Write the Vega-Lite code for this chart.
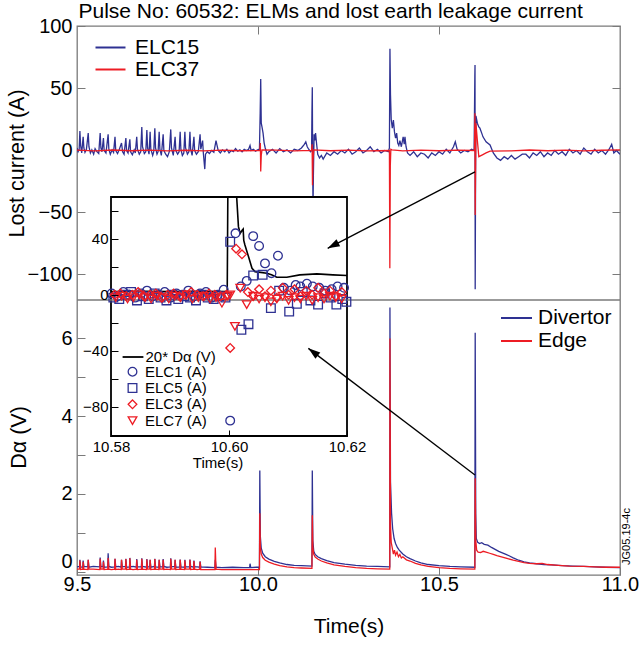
{
"$schema": "https://vega.github.io/schema/vega-lite/v6.json",
"width": 543, "height": 549,
"autosize": {"type": "none"},
"padding": {"left": 77, "top": 26, "right": 24, "bottom": 71},
"background": "white",
"config": {
 "font": "Liberation Sans",
 "view": {"stroke": "#7a7a7a", "strokeWidth": 1.3},
 "axis": {"labelFont": "Liberation Sans", "titleFont": "Liberation Sans", "labelColor": "black", "titleColor": "black", "titleFontWeight": "normal", "domainColor": "#7a7a7a", "tickColor": "#7a7a7a", "grid": false, "labelFlush": false, "labelOverlap": false},
 "legend": {"labelFont": "Liberation Sans", "labelColor": "black", "padding": 0}
},
"datasets": {
 "top": [
{"s":"ELC15","t":9.500,"v":2},{"s":"ELC15","t":9.503,"v":-1},{"s":"ELC15","t":9.506,"v":1},{"s":"ELC15","t":9.508,"v":15.7},{"s":"ELC15","t":9.510,"v":4},{"s":"ELC15","t":9.513,"v":-2},{"s":"ELC15","t":9.517,"v":11},{"s":"ELC15","t":9.519,"v":2},{"s":"ELC15","t":9.522,"v":-1.5},{"s":"ELC15","t":9.526,"v":1},{"s":"ELC15","t":9.531,"v":14},{"s":"ELC15","t":9.533,"v":3},{"s":"ELC15","t":9.537,"v":-2},{"s":"ELC15","t":9.541,"v":0.5},{"s":"ELC15","t":9.546,"v":-3},{"s":"ELC15","t":9.550,"v":1.5},{"s":"ELC15","t":9.555,"v":-1},{"s":"ELC15","t":9.560,"v":-2.5},{"s":"ELC15","t":9.564,"v":14},{"s":"ELC15","t":9.566,"v":2},{"s":"ELC15","t":9.569,"v":-1},{"s":"ELC15","t":9.573,"v":10},{"s":"ELC15","t":9.575,"v":0},{"s":"ELC15","t":9.580,"v":-2},{"s":"ELC15","t":9.586,"v":13},{"s":"ELC15","t":9.588,"v":1},{"s":"ELC15","t":9.592,"v":-3},{"s":"ELC15","t":9.597,"v":0.5},{"s":"ELC15","t":9.601,"v":-1.5},{"s":"ELC15","t":9.605,"v":11},{"s":"ELC15","t":9.607,"v":0},{"s":"ELC15","t":9.612,"v":-2.5},{"s":"ELC15","t":9.617,"v":1},{"s":"ELC15","t":9.623,"v":6},{"s":"ELC15","t":9.626,"v":-1},{"s":"ELC15","t":9.630,"v":-3},{"s":"ELC15","t":9.635,"v":10},{"s":"ELC15","t":9.637,"v":0},{"s":"ELC15","t":9.641,"v":-2},{"s":"ELC15","t":9.646,"v":9},{"s":"ELC15","t":9.648,"v":-1},{"s":"ELC15","t":9.653,"v":-3.5},{"s":"ELC15","t":9.658,"v":0.5},{"s":"ELC15","t":9.661,"v":-2},{"s":"ELC15","t":9.665,"v":11},{"s":"ELC15","t":9.667,"v":1},{"s":"ELC15","t":9.672,"v":-3},{"s":"ELC15","t":9.676,"v":-1},{"s":"ELC15","t":9.679,"v":19},{"s":"ELC15","t":9.681,"v":3},{"s":"ELC15","t":9.686,"v":-2.5},{"s":"ELC15","t":9.690,"v":-1},{"s":"ELC15","t":9.693,"v":16.5},{"s":"ELC15","t":9.695,"v":2},{"s":"ELC15","t":9.699,"v":-3},{"s":"ELC15","t":9.702,"v":15},{"s":"ELC15","t":9.704,"v":1},{"s":"ELC15","t":9.709,"v":-4},{"s":"ELC15","t":9.712,"v":-1},{"s":"ELC15","t":9.715,"v":18},{"s":"ELC15","t":9.717,"v":2},{"s":"ELC15","t":9.721,"v":-3},{"s":"ELC15","t":9.724,"v":-1},{"s":"ELC15","t":9.727,"v":15},{"s":"ELC15","t":9.729,"v":1},{"s":"ELC15","t":9.733,"v":-4},{"s":"ELC15","t":9.738,"v":13},{"s":"ELC15","t":9.740,"v":0},{"s":"ELC15","t":9.745,"v":-3},{"s":"ELC15","t":9.750,"v":-5},{"s":"ELC15","t":9.755,"v":-1},{"s":"ELC15","t":9.759,"v":17},{"s":"ELC15","t":9.761,"v":2},{"s":"ELC15","t":9.766,"v":-4},{"s":"ELC15","t":9.771,"v":11},{"s":"ELC15","t":9.773,"v":0},{"s":"ELC15","t":9.778,"v":-3},{"s":"ELC15","t":9.782,"v":-1},{"s":"ELC15","t":9.785,"v":15},{"s":"ELC15","t":9.787,"v":1},{"s":"ELC15","t":9.791,"v":-4},{"s":"ELC15","t":9.795,"v":-2},{"s":"ELC15","t":9.798,"v":15},{"s":"ELC15","t":9.800,"v":2},{"s":"ELC15","t":9.805,"v":-3},{"s":"ELC15","t":9.809,"v":-1},{"s":"ELC15","t":9.812,"v":15},{"s":"ELC15","t":9.814,"v":1},{"s":"ELC15","t":9.818,"v":-4},{"s":"ELC15","t":9.823,"v":11},{"s":"ELC15","t":9.825,"v":0},{"s":"ELC15","t":9.830,"v":-3},{"s":"ELC15","t":9.835,"v":-1},{"s":"ELC15","t":9.840,"v":13},{"s":"ELC15","t":9.842,"v":1},{"s":"ELC15","t":9.847,"v":8},{"s":"ELC15","t":9.849,"v":-2},{"s":"ELC15","t":9.853,"v":-15},{"s":"ELC15","t":9.855,"v":-3},{"s":"ELC15","t":9.860,"v":-1},{"s":"ELC15","t":9.866,"v":-2.5},{"s":"ELC15","t":9.872,"v":0},{"s":"ELC15","t":9.878,"v":-1.5},{"s":"ELC15","t":9.884,"v":8},{"s":"ELC15","t":9.887,"v":4},{"s":"ELC15","t":9.890,"v":0},{"s":"ELC15","t":9.896,"v":-2},{"s":"ELC15","t":9.902,"v":0.5},{"s":"ELC15","t":9.908,"v":-1},{"s":"ELC15","t":9.914,"v":1},{"s":"ELC15","t":9.920,"v":-2},{"s":"ELC15","t":9.926,"v":0},{"s":"ELC15","t":9.932,"v":-1},{"s":"ELC15","t":9.938,"v":1.5},{"s":"ELC15","t":9.944,"v":-0.5},{"s":"ELC15","t":9.950,"v":0.5},{"s":"ELC15","t":9.956,"v":-1},{"s":"ELC15","t":9.962,"v":1},{"s":"ELC15","t":9.968,"v":0},{"s":"ELC15","t":9.974,"v":1},{"s":"ELC15","t":9.978,"v":4},{"s":"ELC15","t":9.981,"v":0},{"s":"ELC15","t":9.987,"v":1},{"s":"ELC15","t":9.993,"v":-0.5},{"s":"ELC15","t":9.999,"v":0.5},{"s":"ELC15","t":10.004,"v":1},{"s":"ELC15","t":10.006,"v":30},{"s":"ELC15","t":10.0075,"v":57.7},{"s":"ELC15","t":10.009,"v":22},{"s":"ELC15","t":10.011,"v":19},{"s":"ELC15","t":10.014,"v":14},{"s":"ELC15","t":10.017,"v":6},{"s":"ELC15","t":10.020,"v":2},{"s":"ELC15","t":10.025,"v":-3},{"s":"ELC15","t":10.030,"v":-1},{"s":"ELC15","t":10.040,"v":1},{"s":"ELC15","t":10.050,"v":-2},{"s":"ELC15","t":10.060,"v":1.5},{"s":"ELC15","t":10.070,"v":-1},{"s":"ELC15","t":10.080,"v":0.5},{"s":"ELC15","t":10.090,"v":-2},{"s":"ELC15","t":10.100,"v":1},{"s":"ELC15","t":10.110,"v":0},{"s":"ELC15","t":10.120,"v":2},{"s":"ELC15","t":10.128,"v":5},{"s":"ELC15","t":10.132,"v":7},{"s":"ELC15","t":10.136,"v":3},{"s":"ELC15","t":10.140,"v":1},{"s":"ELC15","t":10.145,"v":-1},{"s":"ELC15","t":10.148,"v":0},{"s":"ELC15","t":10.149,"v":30},{"s":"ELC15","t":10.150,"v":51},{"s":"ELC15","t":10.151,"v":-10},{"s":"ELC15","t":10.152,"v":-46},{"s":"ELC15","t":10.153,"v":-20},{"s":"ELC15","t":10.155,"v":13},{"s":"ELC15","t":10.157,"v":8},{"s":"ELC15","t":10.159,"v":14},{"s":"ELC15","t":10.162,"v":5},{"s":"ELC15","t":10.165,"v":-3},{"s":"ELC15","t":10.170,"v":-6},{"s":"ELC15","t":10.175,"v":-4},{"s":"ELC15","t":10.180,"v":-7},{"s":"ELC15","t":10.190,"v":-2},{"s":"ELC15","t":10.200,"v":-4},{"s":"ELC15","t":10.210,"v":-1},{"s":"ELC15","t":10.220,"v":-3},{"s":"ELC15","t":10.230,"v":0},{"s":"ELC15","t":10.240,"v":-2},{"s":"ELC15","t":10.250,"v":1},{"s":"ELC15","t":10.260,"v":-3},{"s":"ELC15","t":10.270,"v":-1},{"s":"ELC15","t":10.280,"v":2},{"s":"ELC15","t":10.290,"v":-2},{"s":"ELC15","t":10.300,"v":0},{"s":"ELC15","t":10.310,"v":3},{"s":"ELC15","t":10.320,"v":-1},{"s":"ELC15","t":10.330,"v":1},{"s":"ELC15","t":10.340,"v":-2},{"s":"ELC15","t":10.350,"v":0},{"s":"ELC15","t":10.360,"v":-1},{"s":"ELC15","t":10.363,"v":2},{"s":"ELC15","t":10.3645,"v":82},{"s":"ELC15","t":10.366,"v":45},{"s":"ELC15","t":10.368,"v":25},{"s":"ELC15","t":10.371,"v":18},{"s":"ELC15","t":10.374,"v":24.6},{"s":"ELC15","t":10.377,"v":15},{"s":"ELC15","t":10.380,"v":10},{"s":"ELC15","t":10.383,"v":14},{"s":"ELC15","t":10.386,"v":6},{"s":"ELC15","t":10.389,"v":4},{"s":"ELC15","t":10.392,"v":8},{"s":"ELC15","t":10.396,"v":3},{"s":"ELC15","t":10.401,"v":11},{"s":"ELC15","t":10.404,"v":5},{"s":"ELC15","t":10.406,"v":11},{"s":"ELC15","t":10.409,"v":3},{"s":"ELC15","t":10.413,"v":-2},{"s":"ELC15","t":10.420,"v":-4},{"s":"ELC15","t":10.430,"v":-1},{"s":"ELC15","t":10.440,"v":-5},{"s":"ELC15","t":10.450,"v":-2},{"s":"ELC15","t":10.460,"v":-3},{"s":"ELC15","t":10.470,"v":-6},{"s":"ELC15","t":10.480,"v":-2},{"s":"ELC15","t":10.490,"v":-4},{"s":"ELC15","t":10.500,"v":-1},{"s":"ELC15","t":10.510,"v":-3},{"s":"ELC15","t":10.520,"v":1},{"s":"ELC15","t":10.530,"v":-2},{"s":"ELC15","t":10.540,"v":3},{"s":"ELC15","t":10.545,"v":7},{"s":"ELC15","t":10.550,"v":1},{"s":"ELC15","t":10.560,"v":-2},{"s":"ELC15","t":10.570,"v":0},{"s":"ELC15","t":10.580,"v":-1},{"s":"ELC15","t":10.590,"v":1},{"s":"ELC15","t":10.597,"v":0},{"s":"ELC15","t":10.599,"v":60},{"s":"ELC15","t":10.5995,"v":69},{"s":"ELC15","t":10.600,"v":-112},{"s":"ELC15","t":10.601,"v":-20},{"s":"ELC15","t":10.602,"v":28},{"s":"ELC15","t":10.606,"v":22},{"s":"ELC15","t":10.610,"v":19},{"s":"ELC15","t":10.613,"v":18},{"s":"ELC15","t":10.618,"v":14},{"s":"ELC15","t":10.6215,"v":11},{"s":"ELC15","t":10.630,"v":7},{"s":"ELC15","t":10.641,"v":4.4},{"s":"ELC15","t":10.650,"v":-2},{"s":"ELC15","t":10.660,"v":-6},{"s":"ELC15","t":10.670,"v":-8},{"s":"ELC15","t":10.680,"v":-5},{"s":"ELC15","t":10.690,"v":-7},{"s":"ELC15","t":10.700,"v":-4},{"s":"ELC15","t":10.710,"v":-7},{"s":"ELC15","t":10.720,"v":-5},{"s":"ELC15","t":10.730,"v":-3},{"s":"ELC15","t":10.740,"v":-3},{"s":"ELC15","t":10.750,"v":-6},{"s":"ELC15","t":10.760,"v":-2},{"s":"ELC15","t":10.770,"v":-4},{"s":"ELC15","t":10.780,"v":-1},{"s":"ELC15","t":10.790,"v":-5},{"s":"ELC15","t":10.800,"v":-2},{"s":"ELC15","t":10.810,"v":-4},{"s":"ELC15","t":10.820,"v":0},{"s":"ELC15","t":10.830,"v":-3},{"s":"ELC15","t":10.840,"v":-1},{"s":"ELC15","t":10.850,"v":-4},{"s":"ELC15","t":10.860,"v":1},{"s":"ELC15","t":10.870,"v":-2},{"s":"ELC15","t":10.880,"v":0},{"s":"ELC15","t":10.890,"v":-3},{"s":"ELC15","t":10.900,"v":2},{"s":"ELC15","t":10.910,"v":-1},{"s":"ELC15","t":10.920,"v":-3},{"s":"ELC15","t":10.930,"v":1},{"s":"ELC15","t":10.940,"v":-2},{"s":"ELC15","t":10.950,"v":0},{"s":"ELC15","t":10.960,"v":-3},{"s":"ELC15","t":10.970,"v":1},{"s":"ELC15","t":10.977,"v":5},{"s":"ELC15","t":10.983,"v":-2},{"s":"ELC15","t":10.990,"v":0},{"s":"ELC15","t":11.000,"v":-3},
{"s":"ELC37","t":9.500,"v":0.3},{"s":"ELC37","t":9.550,"v":-0.3},{"s":"ELC37","t":9.600,"v":0.4},{"s":"ELC37","t":9.650,"v":-0.2},{"s":"ELC37","t":9.700,"v":0.3},{"s":"ELC37","t":9.750,"v":-0.4},{"s":"ELC37","t":9.800,"v":0.2},{"s":"ELC37","t":9.850,"v":-0.3},{"s":"ELC37","t":9.900,"v":0.3},{"s":"ELC37","t":9.950,"v":-0.2},{"s":"ELC37","t":10.005,"v":0},{"s":"ELC37","t":10.0065,"v":6},{"s":"ELC37","t":10.0075,"v":-17},{"s":"ELC37","t":10.009,"v":-4},{"s":"ELC37","t":10.011,"v":0.5},{"s":"ELC37","t":10.050,"v":0.3},{"s":"ELC37","t":10.100,"v":-0.3},{"s":"ELC37","t":10.148,"v":0},{"s":"ELC37","t":10.1495,"v":5},{"s":"ELC37","t":10.1505,"v":-28},{"s":"ELC37","t":10.152,"v":-8},{"s":"ELC37","t":10.154,"v":0.5},{"s":"ELC37","t":10.200,"v":-0.2},{"s":"ELC37","t":10.250,"v":0.3},{"s":"ELC37","t":10.300,"v":-0.3},{"s":"ELC37","t":10.363,"v":0},{"s":"ELC37","t":10.3642,"v":-95},{"s":"ELC37","t":10.3655,"v":-12},{"s":"ELC37","t":10.367,"v":1},{"s":"ELC37","t":10.370,"v":0.5},{"s":"ELC37","t":10.400,"v":-0.3},{"s":"ELC37","t":10.450,"v":0.3},{"s":"ELC37","t":10.500,"v":-0.2},{"s":"ELC37","t":10.550,"v":0.3},{"s":"ELC37","t":10.598,"v":0},{"s":"ELC37","t":10.5993,"v":30},{"s":"ELC37","t":10.600,"v":-52},{"s":"ELC37","t":10.602,"v":22},{"s":"ELC37","t":10.606,"v":8},{"s":"ELC37","t":10.610,"v":-5},{"s":"ELC37","t":10.620,"v":-3.5},{"s":"ELC37","t":10.630,"v":-2},{"s":"ELC37","t":10.641,"v":-0.5},{"s":"ELC37","t":10.700,"v":-0.3},{"s":"ELC37","t":10.750,"v":0.4},{"s":"ELC37","t":10.800,"v":-0.2},{"s":"ELC37","t":10.850,"v":0.3},{"s":"ELC37","t":10.900,"v":-0.3},{"s":"ELC37","t":10.950,"v":0.2},{"s":"ELC37","t":11.000,"v":0.5}
 ],
 "bot": [
{"s":"Divertor","t":9.500,"v":0.12},{"s":"Divertor","t":9.507,"v":0.13},{"s":"Divertor","t":9.508,"v":0.30},{"s":"Divertor","t":9.510,"v":0.12},{"s":"Divertor","t":9.516,"v":0.11},{"s":"Divertor","t":9.517,"v":0.28},{"s":"Divertor","t":9.519,"v":0.13},{"s":"Divertor","t":9.530,"v":0.12},{"s":"Divertor","t":9.531,"v":0.30},{"s":"Divertor","t":9.533,"v":0.11},{"s":"Divertor","t":9.545,"v":0.13},{"s":"Divertor","t":9.563,"v":0.12},{"s":"Divertor","t":9.564,"v":0.36},{"s":"Divertor","t":9.566,"v":0.12},{"s":"Divertor","t":9.572,"v":0.13},{"s":"Divertor","t":9.573,"v":0.28},{"s":"Divertor","t":9.575,"v":0.11},{"s":"Divertor","t":9.585,"v":0.12},{"s":"Divertor","t":9.586,"v":0.47},{"s":"Divertor","t":9.588,"v":0.13},{"s":"Divertor","t":9.595,"v":0.11},{"s":"Divertor","t":9.604,"v":0.12},{"s":"Divertor","t":9.605,"v":0.33},{"s":"Divertor","t":9.607,"v":0.12},{"s":"Divertor","t":9.614,"v":0.13},{"s":"Divertor","t":9.622,"v":0.11},{"s":"Divertor","t":9.623,"v":0.30},{"s":"Divertor","t":9.625,"v":0.12},{"s":"Divertor","t":9.634,"v":0.13},{"s":"Divertor","t":9.635,"v":0.33},{"s":"Divertor","t":9.637,"v":0.11},{"s":"Divertor","t":9.645,"v":0.12},{"s":"Divertor","t":9.646,"v":0.35},{"s":"Divertor","t":9.648,"v":0.12},{"s":"Divertor","t":9.655,"v":0.13},{"s":"Divertor","t":9.664,"v":0.11},{"s":"Divertor","t":9.665,"v":0.32},{"s":"Divertor","t":9.667,"v":0.12},{"s":"Divertor","t":9.678,"v":0.12},{"s":"Divertor","t":9.679,"v":0.34},{"s":"Divertor","t":9.681,"v":0.13},{"s":"Divertor","t":9.692,"v":0.11},{"s":"Divertor","t":9.693,"v":0.32},{"s":"Divertor","t":9.695,"v":0.12},{"s":"Divertor","t":9.701,"v":0.12},{"s":"Divertor","t":9.702,"v":0.30},{"s":"Divertor","t":9.704,"v":0.11},{"s":"Divertor","t":9.714,"v":0.13},{"s":"Divertor","t":9.715,"v":0.33},{"s":"Divertor","t":9.717,"v":0.12},{"s":"Divertor","t":9.726,"v":0.11},{"s":"Divertor","t":9.727,"v":0.30},{"s":"Divertor","t":9.729,"v":0.12},{"s":"Divertor","t":9.737,"v":0.12},{"s":"Divertor","t":9.738,"v":0.32},{"s":"Divertor","t":9.740,"v":0.13},{"s":"Divertor","t":9.748,"v":0.11},{"s":"Divertor","t":9.758,"v":0.12},{"s":"Divertor","t":9.759,"v":0.34},{"s":"Divertor","t":9.761,"v":0.12},{"s":"Divertor","t":9.770,"v":0.13},{"s":"Divertor","t":9.771,"v":0.30},{"s":"Divertor","t":9.773,"v":0.11},{"s":"Divertor","t":9.784,"v":0.12},{"s":"Divertor","t":9.785,"v":0.31},{"s":"Divertor","t":9.787,"v":0.12},{"s":"Divertor","t":9.797,"v":0.11},{"s":"Divertor","t":9.798,"v":0.30},{"s":"Divertor","t":9.800,"v":0.12},{"s":"Divertor","t":9.811,"v":0.12},{"s":"Divertor","t":9.812,"v":0.31},{"s":"Divertor","t":9.814,"v":0.13},{"s":"Divertor","t":9.822,"v":0.11},{"s":"Divertor","t":9.823,"v":0.28},{"s":"Divertor","t":9.825,"v":0.12},{"s":"Divertor","t":9.832,"v":0.12},{"s":"Divertor","t":9.839,"v":0.11},{"s":"Divertor","t":9.840,"v":0.26},{"s":"Divertor","t":9.842,"v":0.12},{"s":"Divertor","t":9.860,"v":0.11},{"s":"Divertor","t":9.881,"v":0.10},{"s":"Divertor","t":9.882,"v":0.30},{"s":"Divertor","t":9.884,"v":0.11},{"s":"Divertor","t":9.900,"v":0.10},{"s":"Divertor","t":9.930,"v":0.11},{"s":"Divertor","t":9.960,"v":0.10},{"s":"Divertor","t":9.977,"v":0.10},{"s":"Divertor","t":9.978,"v":0.20},{"s":"Divertor","t":9.980,"v":0.10},{"s":"Divertor","t":9.995,"v":0.11},{"s":"Divertor","t":10.004,"v":0.11},{"s":"Divertor","t":10.005,"v":2.6},{"s":"Divertor","t":10.0065,"v":0.9},{"s":"Divertor","t":10.009,"v":0.6},{"s":"Divertor","t":10.013,"v":0.47},{"s":"Divertor","t":10.020,"v":0.38},{"s":"Divertor","t":10.030,"v":0.32},{"s":"Divertor","t":10.045,"v":0.26},{"s":"Divertor","t":10.060,"v":0.22},{"s":"Divertor","t":10.080,"v":0.18},{"s":"Divertor","t":10.100,"v":0.16},{"s":"Divertor","t":10.120,"v":0.15},{"s":"Divertor","t":10.149,"v":0.14},{"s":"Divertor","t":10.150,"v":2.6},{"s":"Divertor","t":10.1515,"v":0.8},{"s":"Divertor","t":10.154,"v":0.52},{"s":"Divertor","t":10.158,"v":0.44},{"s":"Divertor","t":10.165,"v":0.38},{"s":"Divertor","t":10.175,"v":0.33},{"s":"Divertor","t":10.190,"v":0.28},{"s":"Divertor","t":10.210,"v":0.23},{"s":"Divertor","t":10.240,"v":0.19},{"s":"Divertor","t":10.270,"v":0.16},{"s":"Divertor","t":10.300,"v":0.14},{"s":"Divertor","t":10.330,"v":0.13},{"s":"Divertor","t":10.364,"v":0.12},{"s":"Divertor","t":10.3645,"v":6.8},{"s":"Divertor","t":10.366,"v":2.3},{"s":"Divertor","t":10.369,"v":1.5},{"s":"Divertor","t":10.372,"v":1.1},{"s":"Divertor","t":10.376,"v":0.85},{"s":"Divertor","t":10.380,"v":0.72},{"s":"Divertor","t":10.385,"v":0.62},{"s":"Divertor","t":10.390,"v":0.55},{"s":"Divertor","t":10.400,"v":0.45},{"s":"Divertor","t":10.410,"v":0.38},{"s":"Divertor","t":10.420,"v":0.33},{"s":"Divertor","t":10.435,"v":0.27},{"s":"Divertor","t":10.450,"v":0.22},{"s":"Divertor","t":10.470,"v":0.18},{"s":"Divertor","t":10.500,"v":0.15},{"s":"Divertor","t":10.530,"v":0.13},{"s":"Divertor","t":10.560,"v":0.12},{"s":"Divertor","t":10.599,"v":0.11},{"s":"Divertor","t":10.600,"v":6.15},{"s":"Divertor","t":10.6015,"v":1.5},{"s":"Divertor","t":10.603,"v":0.85},{"s":"Divertor","t":10.607,"v":0.75},{"s":"Divertor","t":10.612,"v":0.72},{"s":"Divertor","t":10.618,"v":0.74},{"s":"Divertor","t":10.625,"v":0.70},{"s":"Divertor","t":10.635,"v":0.68},{"s":"Divertor","t":10.645,"v":0.62},{"s":"Divertor","t":10.655,"v":0.57},{"s":"Divertor","t":10.665,"v":0.52},{"s":"Divertor","t":10.675,"v":0.48},{"s":"Divertor","t":10.685,"v":0.44},{"s":"Divertor","t":10.695,"v":0.40},{"s":"Divertor","t":10.705,"v":0.35},{"s":"Divertor","t":10.720,"v":0.29},{"s":"Divertor","t":10.735,"v":0.25},{"s":"Divertor","t":10.750,"v":0.22},{"s":"Divertor","t":10.770,"v":0.20},{"s":"Divertor","t":10.790,"v":0.18},{"s":"Divertor","t":10.810,"v":0.17},{"s":"Divertor","t":10.840,"v":0.15},{"s":"Divertor","t":10.870,"v":0.14},{"s":"Divertor","t":10.900,"v":0.13},{"s":"Divertor","t":10.930,"v":0.12},{"s":"Divertor","t":10.960,"v":0.11},{"s":"Divertor","t":11.000,"v":0.10},
{"s":"Edge","t":9.500,"v":0.06},{"s":"Edge","t":9.507,"v":0.06},{"s":"Edge","t":9.508,"v":0.28},{"s":"Edge","t":9.510,"v":0.05},{"s":"Edge","t":9.516,"v":0.06},{"s":"Edge","t":9.517,"v":0.25},{"s":"Edge","t":9.519,"v":0.06},{"s":"Edge","t":9.530,"v":0.05},{"s":"Edge","t":9.531,"v":0.30},{"s":"Edge","t":9.533,"v":0.06},{"s":"Edge","t":9.545,"v":0.06},{"s":"Edge","t":9.563,"v":0.05},{"s":"Edge","t":9.564,"v":0.33},{"s":"Edge","t":9.566,"v":0.06},{"s":"Edge","t":9.572,"v":0.06},{"s":"Edge","t":9.573,"v":0.25},{"s":"Edge","t":9.575,"v":0.05},{"s":"Edge","t":9.585,"v":0.06},{"s":"Edge","t":9.586,"v":0.35},{"s":"Edge","t":9.588,"v":0.06},{"s":"Edge","t":9.595,"v":0.05},{"s":"Edge","t":9.604,"v":0.06},{"s":"Edge","t":9.605,"v":0.33},{"s":"Edge","t":9.607,"v":0.05},{"s":"Edge","t":9.614,"v":0.06},{"s":"Edge","t":9.622,"v":0.05},{"s":"Edge","t":9.623,"v":0.30},{"s":"Edge","t":9.625,"v":0.06},{"s":"Edge","t":9.634,"v":0.06},{"s":"Edge","t":9.635,"v":0.32},{"s":"Edge","t":9.637,"v":0.05},{"s":"Edge","t":9.645,"v":0.06},{"s":"Edge","t":9.646,"v":0.34},{"s":"Edge","t":9.648,"v":0.06},{"s":"Edge","t":9.655,"v":0.05},{"s":"Edge","t":9.664,"v":0.06},{"s":"Edge","t":9.665,"v":0.30},{"s":"Edge","t":9.667,"v":0.05},{"s":"Edge","t":9.678,"v":0.06},{"s":"Edge","t":9.679,"v":0.33},{"s":"Edge","t":9.681,"v":0.06},{"s":"Edge","t":9.692,"v":0.05},{"s":"Edge","t":9.693,"v":0.31},{"s":"Edge","t":9.695,"v":0.06},{"s":"Edge","t":9.701,"v":0.06},{"s":"Edge","t":9.702,"v":0.30},{"s":"Edge","t":9.704,"v":0.05},{"s":"Edge","t":9.714,"v":0.06},{"s":"Edge","t":9.715,"v":0.32},{"s":"Edge","t":9.717,"v":0.06},{"s":"Edge","t":9.726,"v":0.05},{"s":"Edge","t":9.727,"v":0.30},{"s":"Edge","t":9.729,"v":0.06},{"s":"Edge","t":9.737,"v":0.06},{"s":"Edge","t":9.738,"v":0.30},{"s":"Edge","t":9.740,"v":0.05},{"s":"Edge","t":9.748,"v":0.06},{"s":"Edge","t":9.758,"v":0.05},{"s":"Edge","t":9.759,"v":0.33},{"s":"Edge","t":9.761,"v":0.06},{"s":"Edge","t":9.770,"v":0.06},{"s":"Edge","t":9.771,"v":0.30},{"s":"Edge","t":9.773,"v":0.05},{"s":"Edge","t":9.784,"v":0.06},{"s":"Edge","t":9.785,"v":0.30},{"s":"Edge","t":9.787,"v":0.06},{"s":"Edge","t":9.797,"v":0.05},{"s":"Edge","t":9.798,"v":0.29},{"s":"Edge","t":9.800,"v":0.06},{"s":"Edge","t":9.811,"v":0.06},{"s":"Edge","t":9.812,"v":0.30},{"s":"Edge","t":9.814,"v":0.05},{"s":"Edge","t":9.822,"v":0.06},{"s":"Edge","t":9.823,"v":0.27},{"s":"Edge","t":9.825,"v":0.06},{"s":"Edge","t":9.832,"v":0.05},{"s":"Edge","t":9.839,"v":0.06},{"s":"Edge","t":9.840,"v":0.25},{"s":"Edge","t":9.842,"v":0.05},{"s":"Edge","t":9.860,"v":0.05},{"s":"Edge","t":9.881,"v":0.05},{"s":"Edge","t":9.882,"v":0.62},{"s":"Edge","t":9.884,"v":0.06},{"s":"Edge","t":9.900,"v":0.05},{"s":"Edge","t":9.950,"v":0.05},{"s":"Edge","t":10.004,"v":0.05},{"s":"Edge","t":10.005,"v":1.5},{"s":"Edge","t":10.0065,"v":0.65},{"s":"Edge","t":10.009,"v":0.45},{"s":"Edge","t":10.013,"v":0.36},{"s":"Edge","t":10.020,"v":0.29},{"s":"Edge","t":10.030,"v":0.24},{"s":"Edge","t":10.045,"v":0.19},{"s":"Edge","t":10.060,"v":0.15},{"s":"Edge","t":10.080,"v":0.12},{"s":"Edge","t":10.100,"v":0.10},{"s":"Edge","t":10.120,"v":0.09},{"s":"Edge","t":10.149,"v":0.08},{"s":"Edge","t":10.150,"v":1.45},{"s":"Edge","t":10.1515,"v":0.62},{"s":"Edge","t":10.154,"v":0.44},{"s":"Edge","t":10.158,"v":0.37},{"s":"Edge","t":10.165,"v":0.32},{"s":"Edge","t":10.175,"v":0.27},{"s":"Edge","t":10.190,"v":0.22},{"s":"Edge","t":10.210,"v":0.17},{"s":"Edge","t":10.240,"v":0.13},{"s":"Edge","t":10.270,"v":0.10},{"s":"Edge","t":10.300,"v":0.08},{"s":"Edge","t":10.330,"v":0.07},{"s":"Edge","t":10.364,"v":0.06},{"s":"Edge","t":10.3645,"v":6.0},{"s":"Edge","t":10.366,"v":1.2},{"s":"Edge","t":10.368,"v":0.75},{"s":"Edge","t":10.371,"v":0.6},{"s":"Edge","t":10.374,"v":0.45},{"s":"Edge","t":10.377,"v":0.55},{"s":"Edge","t":10.380,"v":0.42},{"s":"Edge","t":10.384,"v":0.5},{"s":"Edge","t":10.388,"v":0.38},{"s":"Edge","t":10.392,"v":0.44},{"s":"Edge","t":10.396,"v":0.35},{"s":"Edge","t":10.400,"v":0.38},{"s":"Edge","t":10.410,"v":0.30},{"s":"Edge","t":10.420,"v":0.27},{"s":"Edge","t":10.435,"v":0.21},{"s":"Edge","t":10.450,"v":0.17},{"s":"Edge","t":10.470,"v":0.13},{"s":"Edge","t":10.500,"v":0.10},{"s":"Edge","t":10.530,"v":0.08},{"s":"Edge","t":10.560,"v":0.07},{"s":"Edge","t":10.599,"v":0.06},{"s":"Edge","t":10.600,"v":2.4},{"s":"Edge","t":10.6015,"v":0.8},{"s":"Edge","t":10.604,"v":0.55},{"s":"Edge","t":10.608,"v":0.50},{"s":"Edge","t":10.615,"v":0.49},{"s":"Edge","t":10.622,"v":0.52},{"s":"Edge","t":10.630,"v":0.50},{"s":"Edge","t":10.640,"v":0.47},{"s":"Edge","t":10.650,"v":0.44},{"s":"Edge","t":10.660,"v":0.41},{"s":"Edge","t":10.675,"v":0.37},{"s":"Edge","t":10.690,"v":0.33},{"s":"Edge","t":10.705,"v":0.29},{"s":"Edge","t":10.720,"v":0.26},{"s":"Edge","t":10.735,"v":0.23},{"s":"Edge","t":10.750,"v":0.21},{"s":"Edge","t":10.770,"v":0.20},{"s":"Edge","t":10.785,"v":0.21},{"s":"Edge","t":10.800,"v":0.18},{"s":"Edge","t":10.830,"v":0.16},{"s":"Edge","t":10.860,"v":0.14},{"s":"Edge","t":10.900,"v":0.13},{"s":"Edge","t":10.930,"v":0.12},{"s":"Edge","t":10.960,"v":0.11},{"s":"Edge","t":11.000,"v":0.11}
 ],
 "insline": [
{"t":10.5800,"v":2.4},{"t":10.5850,"v":2.6},{"t":10.5900,"v":2.3},{"t":10.5950,"v":2.5},{"t":10.5997,"v":2.4},{"t":10.5998,"v":70},{"t":10.6013,"v":70},{"t":10.6016,"v":48.8},{"t":10.6019,"v":44},{"t":10.6022,"v":46},{"t":10.6024,"v":47},{"t":10.6025,"v":39},{"t":10.6027,"v":35.7},{"t":10.6033,"v":27.4},{"t":10.6039,"v":19},{"t":10.6044,"v":16.6},{"t":10.6064,"v":15.5},{"t":10.6072,"v":14.3},{"t":10.6081,"v":12.6},{"t":10.6098,"v":12.6},{"t":10.6120,"v":14.3},{"t":10.6149,"v":15},{"t":10.6176,"v":14.3},{"t":10.6200,"v":13.8}
 ],
 "inspts": [
{"s":"ELC1 (A)","t":10.5801,"v":1},{"s":"ELC1 (A)","t":10.5811,"v":-1},{"s":"ELC1 (A)","t":10.5821,"v":2},{"s":"ELC1 (A)","t":10.5831,"v":0},{"s":"ELC1 (A)","t":10.5841,"v":-2},{"s":"ELC1 (A)","t":10.5851,"v":1},{"s":"ELC1 (A)","t":10.5861,"v":3},{"s":"ELC1 (A)","t":10.5871,"v":-1},{"s":"ELC1 (A)","t":10.5881,"v":0},{"s":"ELC1 (A)","t":10.5891,"v":2},{"s":"ELC1 (A)","t":10.5901,"v":-2},{"s":"ELC1 (A)","t":10.5911,"v":1},{"s":"ELC1 (A)","t":10.5921,"v":0},{"s":"ELC1 (A)","t":10.5931,"v":3},{"s":"ELC1 (A)","t":10.5941,"v":-1},{"s":"ELC1 (A)","t":10.5951,"v":1},{"s":"ELC1 (A)","t":10.5961,"v":2},{"s":"ELC1 (A)","t":10.5971,"v":-2},{"s":"ELC1 (A)","t":10.5981,"v":0},{"s":"ELC1 (A)","t":10.5991,"v":3.6},
{"s":"ELC1 (A)","t":10.6002,"v":-90},{"s":"ELC1 (A)","t":10.6011,"v":44},{"s":"ELC1 (A)","t":10.6020,"v":6},{"s":"ELC1 (A)","t":10.6030,"v":10},{"s":"ELC1 (A)","t":10.6041,"v":42},{"s":"ELC1 (A)","t":10.6051,"v":35},{"s":"ELC1 (A)","t":10.6061,"v":22.5},{"s":"ELC1 (A)","t":10.6072,"v":15.5},{"s":"ELC1 (A)","t":10.6083,"v":28},{"s":"ELC1 (A)","t":10.6093,"v":5},{"s":"ELC1 (A)","t":10.6104,"v":3},{"s":"ELC1 (A)","t":10.6113,"v":7},{"s":"ELC1 (A)","t":10.6121,"v":6},{"s":"ELC1 (A)","t":10.6132,"v":8},{"s":"ELC1 (A)","t":10.6142,"v":6},{"s":"ELC1 (A)","t":10.6153,"v":5},{"s":"ELC1 (A)","t":10.6163,"v":3},{"s":"ELC1 (A)","t":10.6174,"v":4},{"s":"ELC1 (A)","t":10.6184,"v":6},{"s":"ELC1 (A)","t":10.6195,"v":5},
{"s":"ELC5 (A)","t":10.5804,"v":-2},{"s":"ELC5 (A)","t":10.5814,"v":-3},{"s":"ELC5 (A)","t":10.5824,"v":0},{"s":"ELC5 (A)","t":10.5834,"v":2},{"s":"ELC5 (A)","t":10.5844,"v":-4},{"s":"ELC5 (A)","t":10.5854,"v":-1},{"s":"ELC5 (A)","t":10.5864,"v":-3},{"s":"ELC5 (A)","t":10.5874,"v":1},{"s":"ELC5 (A)","t":10.5884,"v":-2},{"s":"ELC5 (A)","t":10.5894,"v":-4},{"s":"ELC5 (A)","t":10.5904,"v":0},{"s":"ELC5 (A)","t":10.5914,"v":-3},{"s":"ELC5 (A)","t":10.5924,"v":-1},{"s":"ELC5 (A)","t":10.5934,"v":-2},{"s":"ELC5 (A)","t":10.5944,"v":-4},{"s":"ELC5 (A)","t":10.5954,"v":0},{"s":"ELC5 (A)","t":10.5964,"v":-2},{"s":"ELC5 (A)","t":10.5974,"v":-3},{"s":"ELC5 (A)","t":10.5984,"v":-1},{"s":"ELC5 (A)","t":10.5994,"v":-2},
{"s":"ELC5 (A)","t":10.6002,"v":38},{"s":"ELC5 (A)","t":10.6021,"v":-25},{"s":"ELC5 (A)","t":10.6033,"v":-21},{"s":"ELC5 (A)","t":10.6041,"v":13.8},{"s":"ELC5 (A)","t":10.6057,"v":14.3},{"s":"ELC5 (A)","t":10.6071,"v":-9.5},{"s":"ELC5 (A)","t":10.6085,"v":3},{"s":"ELC5 (A)","t":10.6102,"v":-12},{"s":"ELC5 (A)","t":10.6115,"v":-6.4},{"s":"ELC5 (A)","t":10.6125,"v":2},{"s":"ELC5 (A)","t":10.6138,"v":-4},{"s":"ELC5 (A)","t":10.6151,"v":-7},{"s":"ELC5 (A)","t":10.6162,"v":1},{"s":"ELC5 (A)","t":10.6172,"v":-2},{"s":"ELC5 (A)","t":10.6182,"v":-7},{"s":"ELC5 (A)","t":10.6192,"v":-3},{"s":"ELC5 (A)","t":10.6199,"v":-5},
{"s":"ELC3 (A)","t":10.5806,"v":0},{"s":"ELC3 (A)","t":10.5816,"v":1},{"s":"ELC3 (A)","t":10.5826,"v":-1},{"s":"ELC3 (A)","t":10.5836,"v":0},{"s":"ELC3 (A)","t":10.5846,"v":2},{"s":"ELC3 (A)","t":10.5856,"v":-1},{"s":"ELC3 (A)","t":10.5866,"v":0},{"s":"ELC3 (A)","t":10.5876,"v":1},{"s":"ELC3 (A)","t":10.5886,"v":-2},{"s":"ELC3 (A)","t":10.5896,"v":0},{"s":"ELC3 (A)","t":10.5906,"v":1},{"s":"ELC3 (A)","t":10.5916,"v":-1},{"s":"ELC3 (A)","t":10.5926,"v":0},{"s":"ELC3 (A)","t":10.5936,"v":2},{"s":"ELC3 (A)","t":10.5946,"v":0},{"s":"ELC3 (A)","t":10.5956,"v":-1},{"s":"ELC3 (A)","t":10.5966,"v":1},{"s":"ELC3 (A)","t":10.5976,"v":0},{"s":"ELC3 (A)","t":10.5986,"v":-1},{"s":"ELC3 (A)","t":10.5996,"v":0},
{"s":"ELC3 (A)","t":10.6002,"v":-38},{"s":"ELC3 (A)","t":10.6012,"v":33},{"s":"ELC3 (A)","t":10.6022,"v":29},{"s":"ELC3 (A)","t":10.6032,"v":2},{"s":"ELC3 (A)","t":10.6041,"v":-1},{"s":"ELC3 (A)","t":10.6051,"v":4},{"s":"ELC3 (A)","t":10.6061,"v":-1},{"s":"ELC3 (A)","t":10.6071,"v":3},{"s":"ELC3 (A)","t":10.6081,"v":-2},{"s":"ELC3 (A)","t":10.6091,"v":5},{"s":"ELC3 (A)","t":10.6101,"v":0},{"s":"ELC3 (A)","t":10.6111,"v":4},{"s":"ELC3 (A)","t":10.6121,"v":-1},{"s":"ELC3 (A)","t":10.6131,"v":3},{"s":"ELC3 (A)","t":10.6141,"v":0},{"s":"ELC3 (A)","t":10.6151,"v":5},{"s":"ELC3 (A)","t":10.6161,"v":1},{"s":"ELC3 (A)","t":10.6171,"v":3},{"s":"ELC3 (A)","t":10.6181,"v":-1},{"s":"ELC3 (A)","t":10.6191,"v":2},
{"s":"ELC7 (A)","t":10.5808,"v":-2},{"s":"ELC7 (A)","t":10.5818,"v":-1},{"s":"ELC7 (A)","t":10.5828,"v":-3},{"s":"ELC7 (A)","t":10.5838,"v":-2},{"s":"ELC7 (A)","t":10.5848,"v":0},{"s":"ELC7 (A)","t":10.5858,"v":-2},{"s":"ELC7 (A)","t":10.5868,"v":-3},{"s":"ELC7 (A)","t":10.5878,"v":-1},{"s":"ELC7 (A)","t":10.5888,"v":-2},{"s":"ELC7 (A)","t":10.5898,"v":-3},{"s":"ELC7 (A)","t":10.5908,"v":-1},{"s":"ELC7 (A)","t":10.5918,"v":-2},{"s":"ELC7 (A)","t":10.5928,"v":0},{"s":"ELC7 (A)","t":10.5938,"v":-3},{"s":"ELC7 (A)","t":10.5948,"v":-2},{"s":"ELC7 (A)","t":10.5958,"v":-1},{"s":"ELC7 (A)","t":10.5968,"v":-3},{"s":"ELC7 (A)","t":10.5978,"v":-2},{"s":"ELC7 (A)","t":10.5988,"v":-6},{"s":"ELC7 (A)","t":10.5998,"v":-1},
{"s":"ELC7 (A)","t":10.6002,"v":0},{"s":"ELC7 (A)","t":10.6010,"v":-22.6},{"s":"ELC7 (A)","t":10.6019,"v":4.8},{"s":"ELC7 (A)","t":10.6030,"v":-7},{"s":"ELC7 (A)","t":10.6041,"v":-1},{"s":"ELC7 (A)","t":10.6051,"v":-3},{"s":"ELC7 (A)","t":10.6061,"v":-2},{"s":"ELC7 (A)","t":10.6071,"v":-5},{"s":"ELC7 (A)","t":10.6081,"v":-3},{"s":"ELC7 (A)","t":10.6091,"v":-1},{"s":"ELC7 (A)","t":10.6101,"v":-4},{"s":"ELC7 (A)","t":10.6111,"v":-2},{"s":"ELC7 (A)","t":10.6121,"v":-3},{"s":"ELC7 (A)","t":10.6131,"v":-1},{"s":"ELC7 (A)","t":10.6141,"v":-4},{"s":"ELC7 (A)","t":10.6151,"v":-2},{"s":"ELC7 (A)","t":10.6161,"v":-3},{"s":"ELC7 (A)","t":10.6171,"v":-1},{"s":"ELC7 (A)","t":10.6181,"v":-2},{"s":"ELC7 (A)","t":10.6191,"v":-3}
 ]
},
"layer": [
 {
  "data": {"name": "top"},
  "mark": {"type": "line", "strokeWidth": 1.3, "clip": true},
  "encoding": {
   "x": {"field": "t", "type": "quantitative", "scale": {"domain": [9.5, 11], "nice": false, "zero": false}, "axis": {"orient": "top", "values": [10, 10.5], "labels": false, "domain": false, "tickSize": -8, "title": "Pulse No: 60532: ELMs and lost earth leakage current", "titleFontSize": 21, "titleX": 1, "titleY": -8.5, "titleAlign": "left", "titleAnchor": "start", "titleBaseline": "alphabetic", "titleAngle": 0}},
   "y": {"field": "v", "type": "quantitative", "scale": {"domain": [-120.6, 100.4], "range": [274, 0], "nice": false, "zero": false}, "axis": {"orient": "left", "values": [-100, -50, 0, 50, 100], "tickSize": -8, "labelPadding": 13, "labelFontSize": 20, "domain": false, "title": "Lost current (A)", "titleFontSize": 21.5, "titleX": -60, "titleY": 137, "titleBaseline": "middle", "titleAngle": 270, "titleAlign": "center"}},
   "color": {"field": "s", "type": "nominal", "scale": {"domain": ["ELC15", "ELC37"], "range": ["#2e3192", "#ed1c24"]}, "legend": {"orient": "none", "legendX": 23, "legendY": 11, "title": null, "symbolType": "M-3,0L3,0", "symbolSize": 100, "symbolStrokeWidth": 2, "labelFontSize": 21, "labelOffset": 14, "rowPadding": 0}}
  }
 },
 {
  "data": {"name": "bot"},
  "mark": {"type": "line", "strokeWidth": 1.3, "clip": true},
  "encoding": {
   "x": {"field": "t", "type": "quantitative", "scale": {"domain": [9.5, 11], "nice": false, "zero": false}, "axis": {"orient": "bottom", "values": [9.5, 10, 10.5, 11], "format": ".1f", "tickSize": -8, "labelPadding": 7, "labelFontSize": 20, "domain": false, "title": "Time(s)", "titleFontSize": 21, "titleX": 271.5, "titleY": 51, "titleBaseline": "middle"}},
   "y": {"field": "v", "type": "quantitative", "scale": {"domain": [-0.09, 6.99], "range": [549, 274], "nice": false, "zero": false}, "axis": {"orient": "left", "values": [0, 1, 2, 3, 4, 5, 6], "labelExpr": "datum.value % 2 == 0 ? datum.label : ''", "labelFlush": 5, "tickSize": -8, "labelPadding": 13, "labelFontSize": 20, "domain": false, "title": "Dα (V)", "titleFontSize": 21.5, "titleX": -58, "titleY": 411, "titleBaseline": "middle", "titleAngle": 270, "titleAlign": "center"}},
   "color": {"field": "s", "type": "nominal", "scale": {"domain": ["Divertor", "Edge"], "range": ["#2e3192", "#ed1c24"]}, "legend": {"orient": "none", "legendX": 429, "legendY": 281.5, "title": null, "symbolType": "M-3.1,0L3.1,0", "symbolSize": 100, "symbolStrokeWidth": 2, "labelFontSize": 21, "labelOffset": 11, "rowPadding": 1}}
  }
 },
 {
  "data": {"values": [{}]},
  "mark": {"type": "rect", "fill": "white", "stroke": "black", "strokeWidth": 1.8},
  "encoding": {
   "x": {"datum": 10.58, "type": "quantitative", "scale": {"domain": [10.58, 10.62], "range": [34, 270], "nice": false, "zero": false}, "axis": {"orient": "bottom", "offset": -139, "values": [10.58, 10.6, 10.62], "format": ".2f", "tickSize": -6, "labelPadding": 9, "labelFontSize": 15, "domain": false, "tickColor": "black", "zindex": 1, "title": "Time(s)", "titleFontSize": 15, "titleX": 140.5, "titleY": 26, "titleBaseline": "middle"}},
   "x2": {"datum": 10.62},
   "y": {"datum": 70, "type": "quantitative", "scale": {"domain": [-101, 70], "range": [410, 171], "nice": false, "zero": false}, "axis": {"orient": "left", "offset": -34, "values": [-100, -80, -60, -40, -20, 0, 20, 40, 60], "labelExpr": "datum.value % 40 == 0 ? datum.label : ''", "tickSize": -7, "labelPadding": 10, "labelFontSize": 15, "domain": false, "tickColor": "black", "zindex": 1, "title": null}},
   "y2": {"datum": -101}
  }
 },
 {
  "data": {"values": [{}]},
  "mark": {"type": "rule", "color": "#7a7a7a", "strokeWidth": 1.3},
  "encoding": {
   "y": {"datum": -120.6, "type": "quantitative", "scale": {"domain": [-120.6, 100.4], "range": [274, 0], "nice": false, "zero": false}, "axis": null}
  }
 },
 {
  "data": {"name": "insline"},
  "mark": {"type": "line", "strokeWidth": 1.6},
  "encoding": {
   "x": {"field": "t", "type": "quantitative", "scale": {"domain": [10.58, 10.62], "range": [34, 270], "nice": false, "zero": false}, "axis": null},
   "y": {"field": "v", "type": "quantitative", "scale": {"domain": [-101, 70], "range": [410, 171], "nice": false, "zero": false}, "axis": null},
   "color": {"datum": "20* Dα (V)", "type": "nominal", "scale": {"range": ["black"]}, "legend": {"orient": "none", "legendX": 48.5, "legendY": 323.5, "title": null, "symbolType": "M-2.6,0L2.6,0", "symbolSize": 64, "symbolStrokeWidth": 1.8, "labelFontSize": 15, "labelOffset": 5, "rowPadding": 0}}
  }
 },
 {
  "data": {"name": "inspts"},
  "mark": {"type": "point", "filled": false, "strokeWidth": 1.3, "size": 75, "opacity": 1},
  "encoding": {
   "x": {"field": "t", "type": "quantitative", "scale": {"domain": [10.58, 10.62], "range": [34, 270], "nice": false, "zero": false}, "axis": null},
   "y": {"field": "v", "type": "quantitative", "scale": {"domain": [-101, 70], "range": [410, 171], "nice": false, "zero": false}, "axis": null},
   "color": {"field": "s", "type": "nominal", "scale": {"domain": ["ELC1 (A)", "ELC5 (A)", "ELC3 (A)", "ELC7 (A)"], "range": ["#2e3192", "#2e3192", "#ed1c24", "#ed1c24"]}, "legend": {"orient": "none", "legendX": 48, "legendY": 338.2, "title": null, "symbolSize": 75, "symbolStrokeWidth": 1.3, "labelFontSize": 15, "labelOffset": 5, "rowPadding": 0.3}},
   "shape": {"field": "s", "type": "nominal", "scale": {"domain": ["ELC1 (A)", "ELC5 (A)", "ELC3 (A)", "ELC7 (A)"], "range": ["circle", "square", "diamond", "triangle-down"]}, "legend": {"orient": "none", "legendX": 48, "legendY": 338.2, "title": null, "symbolSize": 75, "symbolStrokeWidth": 1.3, "labelFontSize": 15, "labelOffset": 5, "rowPadding": 0.3}}
  }
 },
 {
  "data": {"values": [{"t1": 10.5994, "v1": -17.3, "t2": 10.1925, "v2": -78.9}]},
  "encoding": {
   "x": {"field": "t2", "type": "quantitative", "scale": {"domain": [9.5, 11], "nice": false, "zero": false}, "axis": null},
   "y": {"field": "v2", "type": "quantitative", "scale": {"domain": [-120.6, 100.4], "range": [274, 0], "nice": false, "zero": false}, "axis": {"orient": "right", "values": [-100, -50, 0, 50, 100], "labels": false, "tickSize": -8, "domain": false, "title": null}}
  },
  "layer": [
   {"mark": {"type": "rule", "color": "black", "strokeWidth": 1.3}, "encoding": {"x2": {"field": "t1"}, "y2": {"field": "v1"}}},
   {"mark": {"type": "point", "shape": "M0,0L1,3L-1,3Z", "angle": 242.7, "size": 64, "filled": true, "color": "black", "opacity": 1, "strokeWidth": 0}}
  ]
 },
 {
  "data": {"values": [{"t1": 10.5994, "v1": 2.484, "t2": 10.139, "v2": 5.745}]},
  "encoding": {
   "x": {"field": "t2", "type": "quantitative", "scale": {"domain": [9.5, 11], "nice": false, "zero": false}, "axis": null},
   "y": {"field": "v2", "type": "quantitative", "scale": {"domain": [-0.09, 6.99], "range": [549, 274], "nice": false, "zero": false}, "axis": {"orient": "right", "labels": false, "ticks": false, "domain": false, "title": "JG05.19-4c", "titleFontSize": 11, "titleAngle": 270, "titleX": 6, "titleY": 510, "titleBaseline": "middle", "titleAlign": "center"}}
  },
  "layer": [
   {"mark": {"type": "rule", "color": "black", "strokeWidth": 1.3}, "encoding": {"x2": {"field": "t1"}, "y2": {"field": "v1"}}},
   {"mark": {"type": "point", "shape": "M0,0L1,3L-1,3Z", "angle": 307.3, "size": 64, "filled": true, "color": "black", "opacity": 1, "strokeWidth": 0}}
  ]
 }
],
"resolve": {"scale": {"x": "independent", "y": "independent", "color": "independent", "shape": "independent"}, "axis": {"x": "independent", "y": "independent"}, "legend": {"color": "independent", "shape": "independent"}}
}
